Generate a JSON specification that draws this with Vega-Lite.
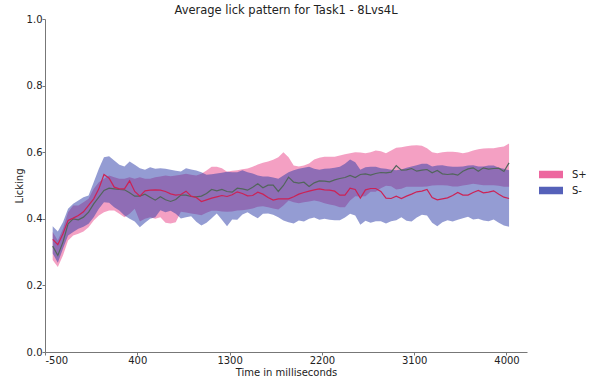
{
 "$schema": "https://vega.github.io/schema/vega-lite/v6.json",
 "width": 482, "height": 333,
 "autosize": {"type": "none"},
 "padding": {"left": 45, "top": 19, "right": 66, "bottom": 33},
 "background": "white",
 "title": {"text": "Average lick pattern for Task1 - 8Lvs4L", "fontSize": 11.5, "font": "DejaVu Sans", "fontWeight": "normal", "color": "#222", "offset": -2, "anchor": "middle"},
 "config": {
  "view": {"stroke": null},
  "axis": {"grid": false, "domainColor": "#777", "tickColor": "#777", "labelColor": "#222", "titleColor": "#222", "labelFont": "DejaVu Sans", "titleFont": "DejaVu Sans", "labelFontSize": 10, "titleFontSize": 10, "titleFontWeight": "normal", "tickSize": 3, "labelPadding": 0, "titlePadding": 2}
 },
 "data": {"values": [
{"t":-425,"s":"S+","m":0.318,"lo":0.276,"hi":0.36},
{"t":-375,"s":"S+","m":0.29,"lo":0.255,"hi":0.335},
{"t":-325,"s":"S+","m":0.33,"lo":0.29,"hi":0.37},
{"t":-275,"s":"S+","m":0.385,"lo":0.335,"hi":0.42},
{"t":-225,"s":"S+","m":0.4,"lo":0.35,"hi":0.44},
{"t":-175,"s":"S+","m":0.397,"lo":0.355,"hi":0.44},
{"t":-125,"s":"S+","m":0.405,"lo":0.362,"hi":0.45},
{"t":-75,"s":"S+","m":0.42,"lo":0.375,"hi":0.46},
{"t":-25,"s":"S+","m":0.445,"lo":0.395,"hi":0.49},
{"t":25,"s":"S+","m":0.465,"lo":0.41,"hi":0.51},
{"t":75,"s":"S+","m":0.485,"lo":0.42,"hi":0.52},
{"t":125,"s":"S+","m":0.492,"lo":0.425,"hi":0.53},
{"t":175,"s":"S+","m":0.49,"lo":0.425,"hi":0.525},
{"t":225,"s":"S+","m":0.488,"lo":0.415,"hi":0.52},
{"t":275,"s":"S+","m":0.487,"lo":0.405,"hi":0.52},
{"t":325,"s":"S+","m":0.478,"lo":0.415,"hi":0.525},
{"t":375,"s":"S+","m":0.468,"lo":0.43,"hi":0.52},
{"t":425,"s":"S+","m":0.468,"lo":0.392,"hi":0.525},
{"t":475,"s":"S+","m":0.474,"lo":0.4,"hi":0.52},
{"t":525,"s":"S+","m":0.465,"lo":0.405,"hi":0.52},
{"t":575,"s":"S+","m":0.456,"lo":0.4,"hi":0.525},
{"t":625,"s":"S+","m":0.466,"lo":0.405,"hi":0.527},
{"t":675,"s":"S+","m":0.457,"lo":0.388,"hi":0.53},
{"t":725,"s":"S+","m":0.452,"lo":0.386,"hi":0.528},
{"t":775,"s":"S+","m":0.458,"lo":0.39,"hi":0.53},
{"t":825,"s":"S+","m":0.471,"lo":0.421,"hi":0.532},
{"t":875,"s":"S+","m":0.471,"lo":0.419,"hi":0.535},
{"t":925,"s":"S+","m":0.467,"lo":0.416,"hi":0.532},
{"t":975,"s":"S+","m":0.466,"lo":0.414,"hi":0.53},
{"t":1025,"s":"S+","m":0.468,"lo":0.411,"hi":0.535},
{"t":1075,"s":"S+","m":0.476,"lo":0.418,"hi":0.545},
{"t":1125,"s":"S+","m":0.488,"lo":0.424,"hi":0.556},
{"t":1175,"s":"S+","m":0.484,"lo":0.424,"hi":0.556},
{"t":1225,"s":"S+","m":0.488,"lo":0.422,"hi":0.552},
{"t":1275,"s":"S+","m":0.482,"lo":0.421,"hi":0.541},
{"t":1325,"s":"S+","m":0.48,"lo":0.422,"hi":0.544},
{"t":1375,"s":"S+","m":0.492,"lo":0.425,"hi":0.546},
{"t":1425,"s":"S+","m":0.49,"lo":0.426,"hi":0.549},
{"t":1475,"s":"S+","m":0.486,"lo":0.428,"hi":0.551},
{"t":1525,"s":"S+","m":0.495,"lo":0.431,"hi":0.556},
{"t":1575,"s":"S+","m":0.505,"lo":0.436,"hi":0.563},
{"t":1625,"s":"S+","m":0.493,"lo":0.438,"hi":0.568},
{"t":1675,"s":"S+","m":0.501,"lo":0.435,"hi":0.572},
{"t":1725,"s":"S+","m":0.501,"lo":0.431,"hi":0.577},
{"t":1775,"s":"S+","m":0.482,"lo":0.428,"hi":0.585},
{"t":1825,"s":"S+","m":0.5,"lo":0.44,"hi":0.6},
{"t":1875,"s":"S+","m":0.525,"lo":0.455,"hi":0.585},
{"t":1925,"s":"S+","m":0.51,"lo":0.45,"hi":0.56},
{"t":1975,"s":"S+","m":0.507,"lo":0.447,"hi":0.557},
{"t":2025,"s":"S+","m":0.51,"lo":0.45,"hi":0.56},
{"t":2075,"s":"S+","m":0.497,"lo":0.452,"hi":0.566},
{"t":2125,"s":"S+","m":0.508,"lo":0.455,"hi":0.578},
{"t":2175,"s":"S+","m":0.514,"lo":0.452,"hi":0.583},
{"t":2225,"s":"S+","m":0.513,"lo":0.447,"hi":0.586},
{"t":2275,"s":"S+","m":0.511,"lo":0.443,"hi":0.586},
{"t":2325,"s":"S+","m":0.517,"lo":0.44,"hi":0.586},
{"t":2375,"s":"S+","m":0.521,"lo":0.435,"hi":0.59},
{"t":2425,"s":"S+","m":0.524,"lo":0.435,"hi":0.594},
{"t":2475,"s":"S+","m":0.53,"lo":0.455,"hi":0.597},
{"t":2525,"s":"S+","m":0.524,"lo":0.468,"hi":0.6},
{"t":2575,"s":"S+","m":0.533,"lo":0.467,"hi":0.599},
{"t":2625,"s":"S+","m":0.535,"lo":0.468,"hi":0.597},
{"t":2675,"s":"S+","m":0.531,"lo":0.481,"hi":0.6},
{"t":2725,"s":"S+","m":0.536,"lo":0.481,"hi":0.605},
{"t":2775,"s":"S+","m":0.539,"lo":0.492,"hi":0.603},
{"t":2825,"s":"S+","m":0.538,"lo":0.499,"hi":0.597},
{"t":2875,"s":"S+","m":0.54,"lo":0.498,"hi":0.605},
{"t":2925,"s":"S+","m":0.56,"lo":0.488,"hi":0.613},
{"t":2975,"s":"S+","m":0.546,"lo":0.49,"hi":0.615},
{"t":3025,"s":"S+","m":0.547,"lo":0.496,"hi":0.618},
{"t":3075,"s":"S+","m":0.551,"lo":0.496,"hi":0.62},
{"t":3125,"s":"S+","m":0.543,"lo":0.496,"hi":0.621},
{"t":3175,"s":"S+","m":0.546,"lo":0.496,"hi":0.619},
{"t":3225,"s":"S+","m":0.548,"lo":0.497,"hi":0.612},
{"t":3275,"s":"S+","m":0.538,"lo":0.5,"hi":0.6},
{"t":3325,"s":"S+","m":0.545,"lo":0.501,"hi":0.597},
{"t":3375,"s":"S+","m":0.535,"lo":0.501,"hi":0.6},
{"t":3425,"s":"S+","m":0.533,"lo":0.5,"hi":0.601},
{"t":3475,"s":"S+","m":0.535,"lo":0.497,"hi":0.601},
{"t":3525,"s":"S+","m":0.531,"lo":0.497,"hi":0.6},
{"t":3575,"s":"S+","m":0.543,"lo":0.5,"hi":0.597},
{"t":3625,"s":"S+","m":0.55,"lo":0.502,"hi":0.6},
{"t":3675,"s":"S+","m":0.553,"lo":0.505,"hi":0.605},
{"t":3725,"s":"S+","m":0.543,"lo":0.503,"hi":0.609},
{"t":3775,"s":"S+","m":0.553,"lo":0.501,"hi":0.611},
{"t":3825,"s":"S+","m":0.549,"lo":0.501,"hi":0.612},
{"t":3875,"s":"S+","m":0.551,"lo":0.501,"hi":0.612},
{"t":3925,"s":"S+","m":0.552,"lo":0.499,"hi":0.615},
{"t":3975,"s":"S+","m":0.542,"lo":0.496,"hi":0.617},
{"t":4025,"s":"S+","m":0.568,"lo":0.496,"hi":0.626},
{"t":-425,"s":"S-","m":0.338,"lo":0.296,"hi":0.378},
{"t":-375,"s":"S-","m":0.322,"lo":0.268,"hi":0.362},
{"t":-325,"s":"S-","m":0.355,"lo":0.31,"hi":0.39},
{"t":-275,"s":"S-","m":0.395,"lo":0.35,"hi":0.43},
{"t":-225,"s":"S-","m":0.402,"lo":0.36,"hi":0.445},
{"t":-175,"s":"S-","m":0.41,"lo":0.37,"hi":0.455},
{"t":-125,"s":"S-","m":0.421,"lo":0.376,"hi":0.465},
{"t":-75,"s":"S-","m":0.44,"lo":0.385,"hi":0.47},
{"t":-25,"s":"S-","m":0.46,"lo":0.405,"hi":0.51},
{"t":25,"s":"S-","m":0.49,"lo":0.43,"hi":0.55},
{"t":75,"s":"S-","m":0.533,"lo":0.45,"hi":0.585},
{"t":125,"s":"S-","m":0.522,"lo":0.448,"hi":0.588},
{"t":175,"s":"S-","m":0.495,"lo":0.435,"hi":0.575},
{"t":225,"s":"S-","m":0.49,"lo":0.425,"hi":0.562},
{"t":275,"s":"S-","m":0.49,"lo":0.41,"hi":0.557},
{"t":325,"s":"S-","m":0.514,"lo":0.4,"hi":0.572},
{"t":375,"s":"S-","m":0.482,"lo":0.392,"hi":0.562},
{"t":425,"s":"S-","m":0.468,"lo":0.375,"hi":0.552},
{"t":475,"s":"S-","m":0.484,"lo":0.388,"hi":0.547},
{"t":525,"s":"S-","m":0.486,"lo":0.4,"hi":0.555},
{"t":575,"s":"S-","m":0.487,"lo":0.405,"hi":0.55},
{"t":625,"s":"S-","m":0.486,"lo":0.426,"hi":0.552},
{"t":675,"s":"S-","m":0.482,"lo":0.42,"hi":0.55},
{"t":725,"s":"S-","m":0.475,"lo":0.424,"hi":0.547},
{"t":775,"s":"S-","m":0.471,"lo":0.415,"hi":0.544},
{"t":825,"s":"S-","m":0.473,"lo":0.401,"hi":0.542},
{"t":875,"s":"S-","m":0.483,"lo":0.405,"hi":0.552},
{"t":925,"s":"S-","m":0.468,"lo":0.408,"hi":0.548},
{"t":975,"s":"S-","m":0.464,"lo":0.391,"hi":0.545},
{"t":1025,"s":"S-","m":0.452,"lo":0.38,"hi":0.54},
{"t":1075,"s":"S-","m":0.457,"lo":0.388,"hi":0.532},
{"t":1125,"s":"S-","m":0.462,"lo":0.402,"hi":0.534},
{"t":1175,"s":"S-","m":0.466,"lo":0.416,"hi":0.536},
{"t":1225,"s":"S-","m":0.47,"lo":0.397,"hi":0.538},
{"t":1275,"s":"S-","m":0.467,"lo":0.378,"hi":0.541},
{"t":1325,"s":"S-","m":0.472,"lo":0.398,"hi":0.54},
{"t":1375,"s":"S-","m":0.481,"lo":0.397,"hi":0.54},
{"t":1425,"s":"S-","m":0.476,"lo":0.413,"hi":0.546},
{"t":1475,"s":"S-","m":0.469,"lo":0.42,"hi":0.54},
{"t":1525,"s":"S-","m":0.47,"lo":0.41,"hi":0.536},
{"t":1575,"s":"S-","m":0.48,"lo":0.402,"hi":0.53},
{"t":1625,"s":"S-","m":0.474,"lo":0.415,"hi":0.527},
{"t":1675,"s":"S-","m":0.464,"lo":0.416,"hi":0.527},
{"t":1725,"s":"S-","m":0.456,"lo":0.412,"hi":0.524},
{"t":1775,"s":"S-","m":0.46,"lo":0.405,"hi":0.52},
{"t":1825,"s":"S-","m":0.46,"lo":0.395,"hi":0.53},
{"t":1875,"s":"S-","m":0.46,"lo":0.39,"hi":0.54},
{"t":1925,"s":"S-","m":0.466,"lo":0.386,"hi":0.546},
{"t":1975,"s":"S-","m":0.474,"lo":0.395,"hi":0.55},
{"t":2025,"s":"S-","m":0.479,"lo":0.392,"hi":0.553},
{"t":2075,"s":"S-","m":0.483,"lo":0.4,"hi":0.556},
{"t":2125,"s":"S-","m":0.487,"lo":0.404,"hi":0.55},
{"t":2175,"s":"S-","m":0.49,"lo":0.397,"hi":0.547},
{"t":2225,"s":"S-","m":0.487,"lo":0.4,"hi":0.55},
{"t":2275,"s":"S-","m":0.486,"lo":0.397,"hi":0.551},
{"t":2325,"s":"S-","m":0.483,"lo":0.396,"hi":0.553},
{"t":2375,"s":"S-","m":0.471,"lo":0.396,"hi":0.556},
{"t":2425,"s":"S-","m":0.471,"lo":0.404,"hi":0.565},
{"t":2475,"s":"S-","m":0.492,"lo":0.415,"hi":0.578},
{"t":2525,"s":"S-","m":0.488,"lo":0.41,"hi":0.57},
{"t":2575,"s":"S-","m":0.462,"lo":0.382,"hi":0.547},
{"t":2625,"s":"S-","m":0.487,"lo":0.394,"hi":0.555},
{"t":2675,"s":"S-","m":0.491,"lo":0.388,"hi":0.556},
{"t":2725,"s":"S-","m":0.491,"lo":0.393,"hi":0.556},
{"t":2775,"s":"S-","m":0.482,"lo":0.393,"hi":0.552},
{"t":2825,"s":"S-","m":0.462,"lo":0.386,"hi":0.55},
{"t":2875,"s":"S-","m":0.461,"lo":0.393,"hi":0.547},
{"t":2925,"s":"S-","m":0.468,"lo":0.396,"hi":0.546},
{"t":2975,"s":"S-","m":0.461,"lo":0.405,"hi":0.548},
{"t":3025,"s":"S-","m":0.468,"lo":0.394,"hi":0.553},
{"t":3075,"s":"S-","m":0.474,"lo":0.392,"hi":0.557},
{"t":3125,"s":"S-","m":0.481,"lo":0.404,"hi":0.561},
{"t":3175,"s":"S-","m":0.483,"lo":0.412,"hi":0.565},
{"t":3225,"s":"S-","m":0.488,"lo":0.41,"hi":0.565},
{"t":3275,"s":"S-","m":0.464,"lo":0.388,"hi":0.557},
{"t":3325,"s":"S-","m":0.457,"lo":0.378,"hi":0.56},
{"t":3375,"s":"S-","m":0.46,"lo":0.39,"hi":0.561},
{"t":3425,"s":"S-","m":0.463,"lo":0.396,"hi":0.558},
{"t":3475,"s":"S-","m":0.47,"lo":0.392,"hi":0.556},
{"t":3525,"s":"S-","m":0.479,"lo":0.397,"hi":0.556},
{"t":3575,"s":"S-","m":0.471,"lo":0.402,"hi":0.557},
{"t":3625,"s":"S-","m":0.471,"lo":0.406,"hi":0.56},
{"t":3675,"s":"S-","m":0.479,"lo":0.398,"hi":0.561},
{"t":3725,"s":"S-","m":0.485,"lo":0.4,"hi":0.557},
{"t":3775,"s":"S-","m":0.478,"lo":0.395,"hi":0.557},
{"t":3825,"s":"S-","m":0.48,"lo":0.393,"hi":0.56},
{"t":3875,"s":"S-","m":0.484,"lo":0.398,"hi":0.56},
{"t":3925,"s":"S-","m":0.474,"lo":0.388,"hi":0.553},
{"t":3975,"s":"S-","m":0.465,"lo":0.38,"hi":0.55},
{"t":4025,"s":"S-","m":0.461,"lo":0.376,"hi":0.546}
 ]},
 "layer": [
  {
   "mark": {"type": "area", "fillOpacity": 0.5, "strokeWidth": 0},
   "encoding": {
    "x": {"field": "t", "type": "quantitative", "scale": {"domain": [-500, 4200], "nice": false, "zero": false}, "axis": {"values": [-500, 400, 1300, 2200, 3100, 4000], "labelExpr": "'' + datum.value", "title": "Time in milliseconds"}},
    "y": {"field": "lo", "type": "quantitative", "scale": {"domain": [0, 1], "nice": false}, "axis": {"values": [0, 0.2, 0.4, 0.6, 0.8, 1.0], "format": ".1f", "title": "Licking"}},
    "y2": {"field": "hi"},
    "fill": {"field": "s", "type": "nominal", "scale": {"domain": ["S+", "S-"], "range": ["#e94187", "#2a3aa8"]},
     "legend": {"title": null, "orient": "none", "legendX": 498.5, "legendY": 148, "padding": 0, "symbolType": "M-1.6,-0.5H1.6V0.5H-1.6Z", "symbolSize": 225, "symbolOpacity": 0.8, "symbolStrokeWidth": 0, "labelOffset": 13.5, "rowPadding": 3, "labelFont": "DejaVu Sans", "labelFontSize": 10, "labelColor": "#222"}},
    "order": {"field": "s"}
   }
  },
  {
   "mark": {"type": "line", "strokeWidth": 1.2},
   "encoding": {
    "x": {"field": "t", "type": "quantitative"},
    "y": {"field": "m", "type": "quantitative"},
    "stroke": {"field": "s", "type": "nominal", "scale": {"domain": ["S+", "S-"], "range": ["#52655c", "#cc2255"]}, "legend": null}
   }
  }
 ]
}
